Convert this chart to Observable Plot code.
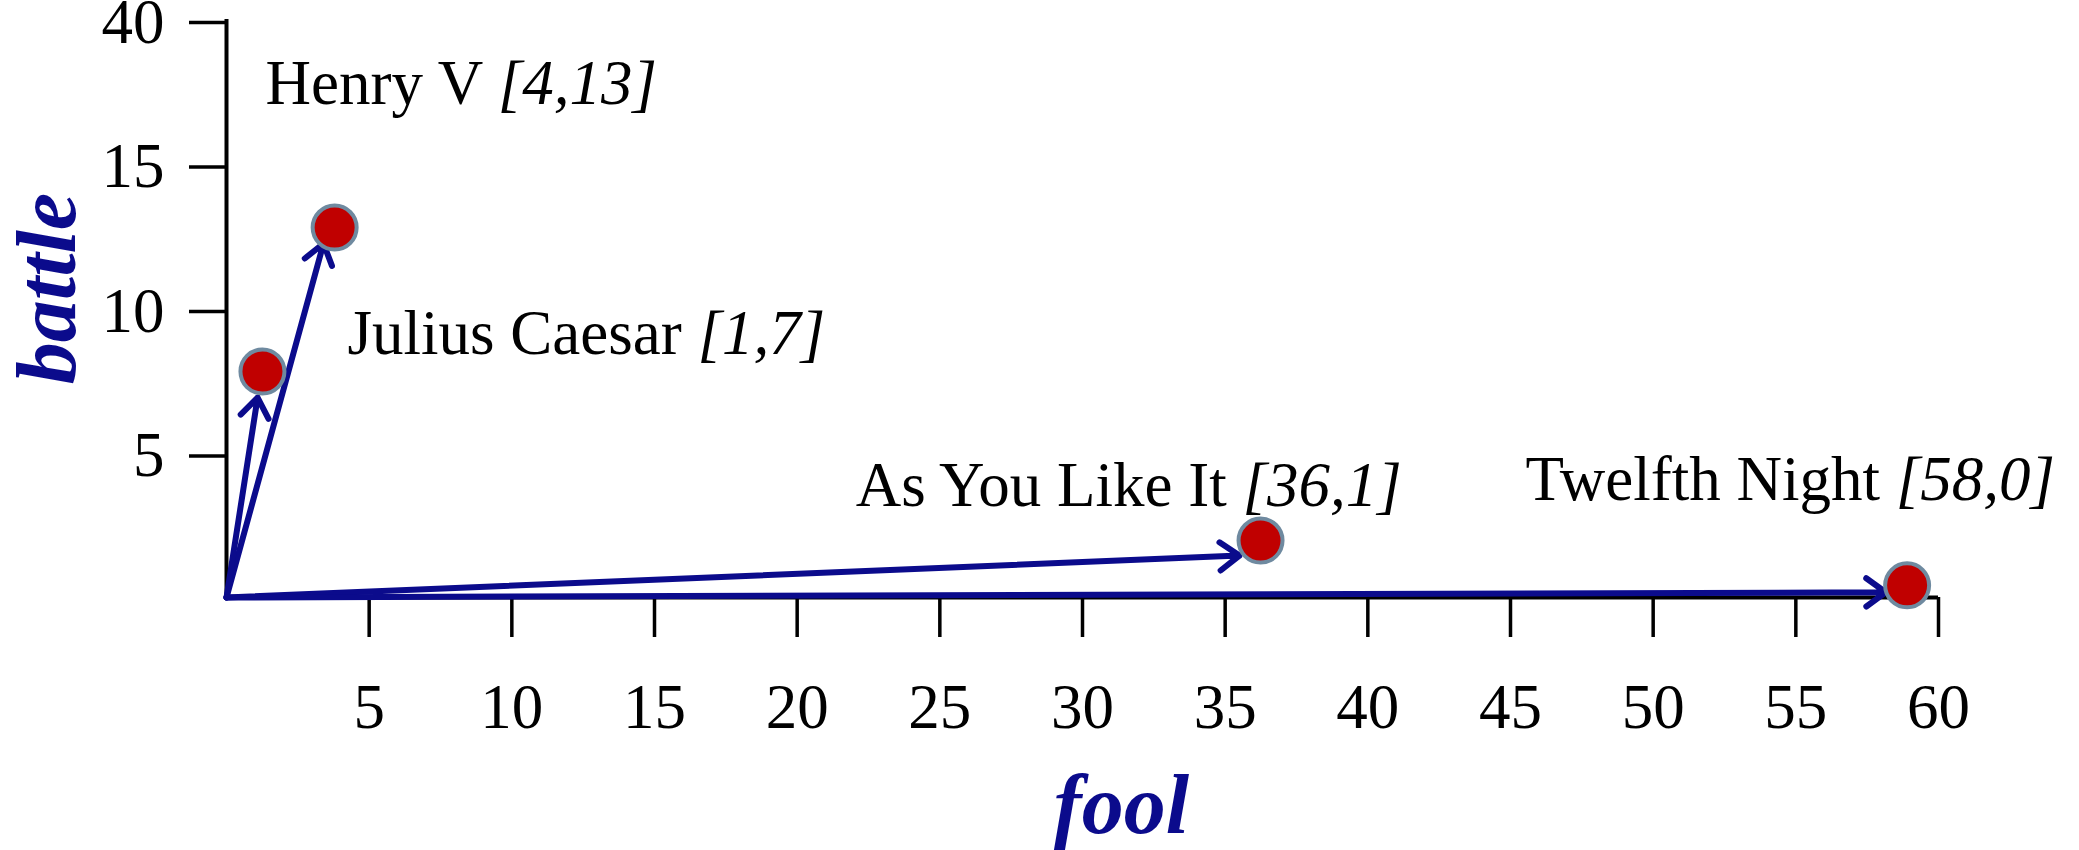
<!DOCTYPE html>
<html>
<head>
<meta charset="utf-8">
<script src="https://cdn.jsdelivr.net/npm/d3@7"></script>
<script src="https://cdn.jsdelivr.net/npm/@observablehq/plot@0.6"></script>
<style>
  html, body { margin: 0; padding: 0; background: #fff; }
</style>
</head>
<body>
<div id="chart"></div>
<script>
// ---- data ----
const plays = ["Henry V", "Julius Caesar", "As You Like It", "Twelfth Night"];
const fool = [4, 1, 36, 58];          // values written in the labels
const battle = [13, 7, 1, 0];
// where the dots sit in the picture
const dotFool = [3.79, 1.26, 36.24, 58.9];
const dotBattle = [12.8, 7.82, 1.97, 0.42];
// where the arrow tips sit in the picture
const tipFool = [3.4, 1.09, 35.5, 58.15];
const tipBattle = [12.25, 6.92, 1.45, 0.18];
// label anchors (left, baseline)
const labelFool = [1.37, 4.24, 22.05, 45.53];
const labelBattle = [17.06, 8.44, 3.15, 3.36];

const xTicks = [5, 10, 15, 20, 25, 30, 35, 40, 45, 50, 55, 60];
const yTicks = [5, 10, 15, 20];
const yTickLabels = ["5", "10", "15", "40"];   // broken axis: top tick reads 40
const xTitle = "fool";
const yTitle = "battle";

const rows = plays.map((p, i) => ({
  play: p, fool: fool[i], battle: battle[i],
  dx: dotFool[i], dy: dotBattle[i],
  tx: tipFool[i], ty: tipBattle[i],
  lx: labelFool[i], ly: labelBattle[i],
  label: `${p} [${fool[i]},${battle[i]}]`
}));

const navy = "#0b0b8c";
const serif = "'Liberation Serif', 'Times New Roman', serif";

const chart = Plot.plot({
  width: 2079,
  height: 850,
  marginLeft: 226,
  marginRight: 141,
  marginTop: 19,
  marginBottom: 253,
  style: {fontFamily: serif, fontSize: "63px", color: "black", background: "white", overflow: "visible"},
  x: {domain: [0, 60]},
  y: {domain: [0, 20]},
  marks: [
    Plot.axisX({ticks: xTicks, tickSize: 40, tickPadding: 46, strokeWidth: 3.5, fontSize: 63, label: null}),
    Plot.axisY({ticks: yTicks, tickFormat: d => yTickLabels[yTicks.indexOf(d)], tickSize: 37, tickPadding: 25, dy: 3, strokeWidth: 3.5, fontSize: 63, label: null}),
    Plot.ruleY([0], {stroke: "black", strokeWidth: 4}),
    Plot.ruleX([0], {stroke: "black", strokeWidth: 4}),
    Plot.arrow(rows, {x1: 0, y1: 0, x2: "tx", y2: "ty", stroke: navy, strokeWidth: 6, headLength: 6, headAngle: 72, bend: 0}),
    Plot.dot(rows, {x: "dx", y: "dy", r: 22, fill: "#c00000", stroke: "#6f8aa0", strokeWidth: 4}),
    Plot.text(rows, {x: "lx", y: "ly", text: "label", textAnchor: "start", lineAnchor: "bottom", fontSize: 63, fill: "black"}),
    Plot.text([xTitle], {frameAnchor: "bottom", text: d => d, dx: 39, dy: 235, textAnchor: "middle", lineAnchor: "bottom", fontSize: 84, fontWeight: "bold", fontStyle: "italic", fill: navy}),
    Plot.text([yTitle], {frameAnchor: "left", text: d => d, dx: -152, dy: -20, rotate: -90, textAnchor: "middle", lineAnchor: "bottom", fontSize: 84, fontWeight: "bold", fontStyle: "italic", fill: navy})
  ]
});

// italicise the "[x,y]" part of each play label
d3.select(chart).selectAll("text").each(function () {
  const t = this.textContent;
  const m = t.match(/^(.+) (\[[^\]]+\])$/);
  if (!m || this.querySelector("tspan")) return;
  const sel = d3.select(this);
  sel.text(null);
  sel.append("tspan").text(m[1] + " ");
  sel.append("tspan").attr("font-style", "italic").text(m[2]);
});

document.getElementById("chart").appendChild(chart);
</script>
</body>
</html>
